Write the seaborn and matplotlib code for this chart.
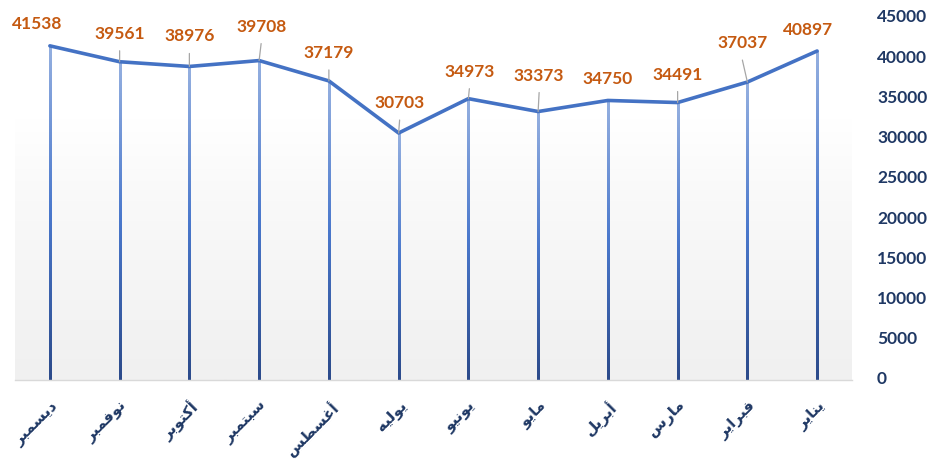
import numpy as np
import pandas as pd
import matplotlib
matplotlib.use("Agg")
import matplotlib.pyplot as plt
import matplotlib.transforms as mtransforms
import seaborn as sns
from matplotlib.colors import LinearSegmentedColormap

# ---------------- data ----------------
months = ["يناير", "فبراير", "مارس", "أبريل", "مايو", "يونيو",
          "يوليه", "أغسطس", "سبتمبر", "أكتوبر", "نوفمبر", "ديسمبر"]
values = [40897, 37037, 34491, 34750, 33373, 34973,
          30703, 37179, 39708, 38976, 39561, 41538]
y_ticks = [0, 5000, 10000, 15000, 20000, 25000, 30000, 35000, 40000, 45000]

# label placement: label centre offset from point in pixels (dx right, dy up)
label_offsets = [(-9, 21), (-5, 39), (0, 28), (0, 21), (1, 36), (1, 27),
                 (1, 30), (0, 28), (2, 34), (0, 30), (0, 28), (-13, 22)]
leaders = [False, True, True, False, True, True,
           True, True, True, True, True, False]

# ---------------- simple Arabic shaping ----------------
FORMS = {
    "ا": (0xFE8D, 0xFE8E, None, None),
    "أ": (0xFE83, 0xFE84, None, None),
    "ب": (0xFE8F, 0xFE90, 0xFE91, 0xFE92),
    "ت": (0xFE95, 0xFE96, 0xFE97, 0xFE98),
    "د": (0xFEA9, 0xFEAA, None, None),
    "ر": (0xFEAD, 0xFEAE, None, None),
    "س": (0xFEB1, 0xFEB2, 0xFEB3, 0xFEB4),
    "ط": (0xFEC1, 0xFEC2, 0xFEC3, 0xFEC4),
    "غ": (0xFECD, 0xFECE, 0xFECF, 0xFED0),
    "ف": (0xFED1, 0xFED2, 0xFED3, 0xFED4),
    "ك": (0xFED9, 0xFEDA, 0xFEDB, 0xFEDC),
    "ل": (0xFEDD, 0xFEDE, 0xFEDF, 0xFEE0),
    "م": (0xFEE1, 0xFEE2, 0xFEE3, 0xFEE4),
    "ن": (0xFEE5, 0xFEE6, 0xFEE7, 0xFEE8),
    "ه": (0xFEE9, 0xFEEA, 0xFEEB, 0xFEEC),
    "و": (0xFEED, 0xFEEE, None, None),
    "ي": (0xFEF1, 0xFEF2, 0xFEF3, 0xFEF4),
}


def shape(word):
    out = []
    n = len(word)
    for i, ch in enumerate(word):
        f = FORMS.get(ch)
        if f is None:
            out.append(ch)
            continue
        prev_joins = i > 0 and word[i - 1] in FORMS and FORMS[word[i - 1]][2] is not None
        next_joins = f[2] is not None and i < n - 1 and word[i + 1] in FORMS
        if prev_joins and next_joins:
            code = f[3]
        elif prev_joins:
            code = f[1]
        elif next_joins:
            code = f[2]
        else:
            code = f[0]
        out.append(chr(code))
    return "".join(reversed(out))


# ---------------- figure ----------------
sns.set_theme(style="white")
plt.rcParams["font.family"] = ["Lato", "DejaVu Sans"]

W, H = 930, 459
DPI = 100
PT = 72 / DPI  # points per pixel
fig = plt.figure(figsize=(W / DPI, H / DPI), dpi=DPI)
ax_left, ax_right, ax_top, ax_bottom = 15, 852, 18, 380
ax = fig.add_axes([ax_left / W, 1 - ax_bottom / H,
                   (ax_right - ax_left) / W, (ax_bottom - ax_top) / H])
ax.set_facecolor("none")

df = pd.DataFrame({"month": months, "value": values})
x_pos = np.arange(len(months))

# background gradient
grad = np.linspace(0, 1, 256).reshape(-1, 1)
bg_cmap = LinearSegmentedColormap.from_list(
    "bg", [(0, "#F0F0F0"), (0.55, "#FAFAFA"), (0.72, "#FFFFFF"), (1, "#FFFFFF")])
ax.imshow(grad, aspect="auto", cmap=bg_cmap, origin="lower",
          extent=[-0.5, 11.5, 0, 45000], zorder=0, interpolation="bilinear")

# drop lines with vertical gradient (dark at base, light at top)
drop_cmap = LinearSegmentedColormap.from_list(
    "drop", [(0, "#2B4A8A"), (0.5, "#4A78CC"), (1, "#95B0E0")])
px = 12 / (ax_right - ax_left)  # one pixel in data units along x
for xi, v in zip(x_pos, values):
    ax.imshow(grad, aspect="auto", cmap=drop_cmap, origin="lower",
              extent=[xi - px * 1.1, xi + px * 1.1, 0, v], zorder=2,
              interpolation="bilinear")

sns.lineplot(data=df, x=x_pos, y="value", sort=False, color="#4472C4",
             linewidth=2.6, ax=ax, zorder=3)

# data labels + leader lines
for xi, v, (dx, dy), ld in zip(x_pos, values, label_offsets, leaders):
    ax.annotate(str(v), xy=(xi, v), xytext=(dx * PT, dy * PT),
                textcoords="offset points", ha="center", va="center",
                color="#C55A11", fontsize=12.5, fontweight="bold",
                zorder=5, annotation_clip=False)
    if ld:
        ax.annotate("", xy=(xi, v), xytext=(dx * PT, (dy - 17) * PT),
                    textcoords="offset points",
                    arrowprops=dict(arrowstyle="-", color="#A6A6A6", lw=0.9,
                                    shrinkA=0, shrinkB=0), zorder=4,
                    annotation_clip=False)

ax.set_xlim(11.5, -0.5)
ax.set_ylim(0, 45000)
ax.set_xticks(x_pos)
ax.set_xticklabels([shape(m) for m in months], rotation=45, ha="right",
                   rotation_mode="anchor", fontsize=11, fontweight="bold",
                   color="#1F3864", family=["DejaVu Sans"])
ax.tick_params(axis="x", length=0, pad=13)
ax.yaxis.tick_right()
ax.set_yticks(y_ticks)
ax.set_yticklabels([str(t) for t in y_ticks], fontsize=12.5, fontweight="bold",
                   color="#1F3864")
ax.tick_params(axis="y", length=0, pad=18)
shift = mtransforms.ScaledTranslation(0, 2 / DPI, fig.dpi_scale_trans)
for lab in ax.get_yticklabels():
    lab.set_transform(lab.get_transform() + shift)
ax.set_xlabel("")
ax.set_ylabel("")
for s in ["top", "left", "right"]:
    ax.spines[s].set_visible(False)
ax.spines["bottom"].set_color("#D9D9D9")
ax.spines["bottom"].set_linewidth(1.0)
ax.grid(False)

fig.savefig("out.png", dpi=DPI)
